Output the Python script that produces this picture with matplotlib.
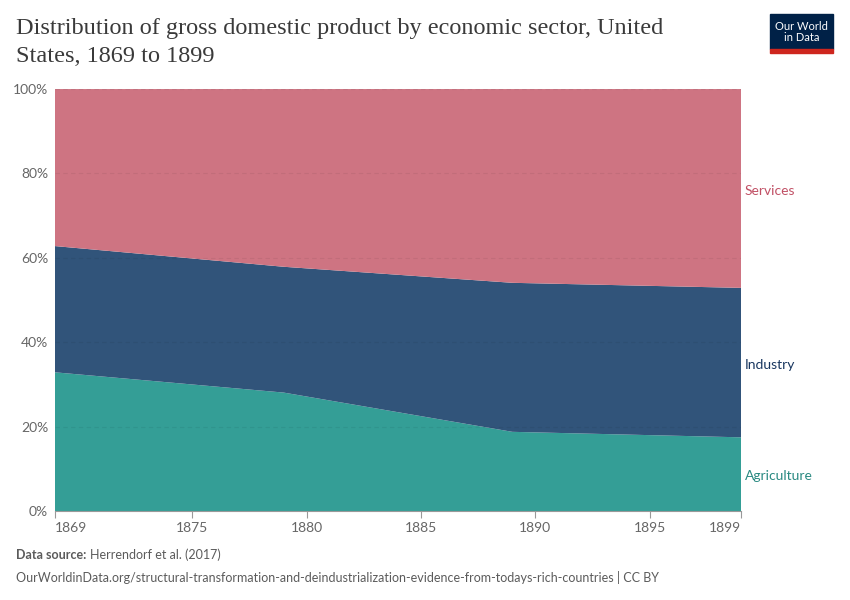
import matplotlib.pyplot as plt
from matplotlib.patches import Rectangle

years = [1869, 1879, 1889, 1899]
agriculture = [32.9, 28.1, 18.8, 17.5]
industry = [29.9, 29.8, 35.3, 35.4]
services = [100 - a - i for a, i in zip(agriculture, industry)]

sectors = ["Agriculture", "Industry", "Services"]
fill_colors = ["#349e96", "#31547a", "#ce7482"]
label_colors = ["#2a8a82", "#18365f", "#c15065"]
xticks = [1869, 1875, 1880, 1885, 1890, 1895, 1899]
yticks = [0, 20, 40, 60, 80, 100]

plt.rcParams["font.family"] = ["Lato", "DejaVu Sans"]

fig = plt.figure(figsize=(8.5, 6), dpi=100)
ax = fig.add_axes([0.0647, 0.148, 0.8071, 0.7036])

ax.stackplot(years, agriculture, industry, services, colors=fill_colors,
             linewidth=0, zorder=1)

for y in yticks[1:]:
    ax.axhline(y, color="#000000", alpha=0.06, lw=0.8, ls=(0, (4, 3)), zorder=2)

ax.set_xlim(1869, 1899)
ax.set_ylim(0, 100)
ax.set_xticks(xticks)
ax.set_yticks(yticks)
ax.set_yticklabels([f"{v}%" for v in yticks])
ax.tick_params(axis="y", length=0, pad=5, labelsize=10, labelcolor="#666666")
ax.tick_params(axis="x", length=5, color="#999999", labelsize=10,
               labelcolor="#666666", pad=3)
xlabels = ax.get_xticklabels()
xlabels[0].set_horizontalalignment("left")
xlabels[-1].set_horizontalalignment("right")
for side in ["top", "right", "left"]:
    ax.spines[side].set_visible(False)
ax.spines["bottom"].set_color("#999999")

# right-hand series labels
bottoms = [0, agriculture[-1], agriculture[-1] + industry[-1]]
tops = [agriculture[-1], agriculture[-1] + industry[-1], 100]
for name, b, t, c in zip(sectors, bottoms, tops, label_colors):
    ax.text(1899.15, (b + t) / 2 - 0.5, name, color=c, fontsize=10, va="center",
            ha="left", clip_on=False)

title_font = ["Liberation Serif", "DejaVu Serif"]
fig.text(0.019, 0.952, "Distribution of gross domestic product by economic sector, United",
         fontsize=17.5, family=title_font, color="#3a3a3a", va="center")
fig.text(0.019, 0.905, "States, 1869 to 1899",
         fontsize=17.5, family=title_font, color="#3a3a3a", va="center")

fig.text(0.019, 0.075, "Data source:", fontsize=9, color="#5b5b5b",
         fontweight="bold", va="center")
fig.text(0.106, 0.075, "Herrendorf et al. (2017)", fontsize=9, color="#5b5b5b",
         va="center")
fig.text(0.019, 0.037,
         "OurWorldinData.org/structural-transformation-and-deindustrialization-evidence-from-todays-rich-countries | CC BY",
         fontsize=9, color="#5b5b5b", va="center")

# logo
fig.patches.append(Rectangle((0.906, 0.918), 0.074, 0.058, transform=fig.transFigure,
                             color="#002147", zorder=5))
fig.patches.append(Rectangle((0.906, 0.912), 0.074, 0.006, transform=fig.transFigure,
                             color="#ce261e", zorder=5))
fig.text(0.943, 0.947, "Our World\nin Data", color="white", fontsize=8,
         ha="center", va="center", linespacing=1.0, zorder=6)

fig.savefig("out.png", dpi=100, facecolor="white")
